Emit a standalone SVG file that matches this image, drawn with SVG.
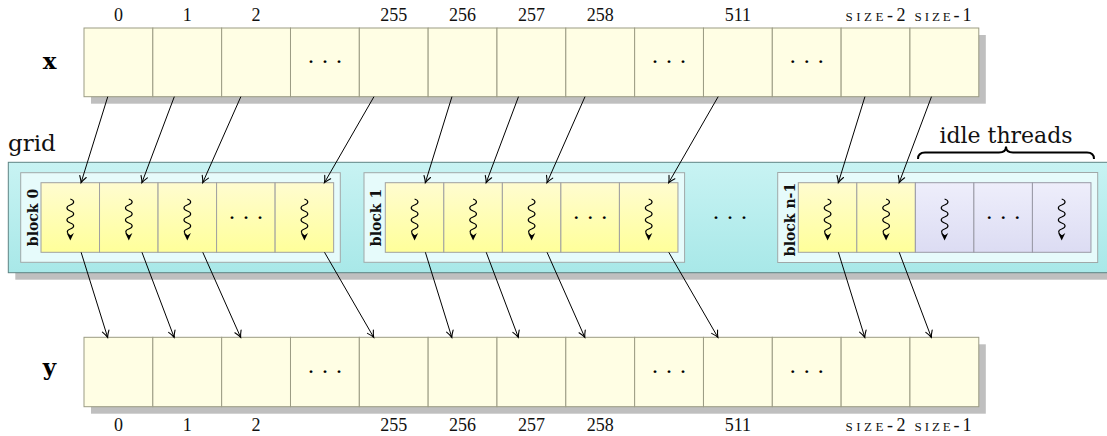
<svg xmlns="http://www.w3.org/2000/svg" width="1107" height="436" viewBox="0 0 1107 436">
<style>
.cell{fill:#fffee4;stroke:#9c9c84;stroke-width:1}
.shadow{fill:#bfbfbf}
.num{font-family:"Liberation Serif",serif;font-size:18px;fill:#111;text-anchor:middle}
.sc{font-size:13px}
.dots{font-family:"Liberation Serif",serif;font-size:24px;fill:#000;text-anchor:middle}
.big{font-family:"DejaVu Serif",serif;font-weight:bold;font-size:23px;fill:#000;text-anchor:middle}
.blk{fill:#e6fbfb;stroke:#a0a8a8;stroke-width:1}
.thr{fill:url(#yel);stroke:#a0a0a0;stroke-width:1}
.idle{fill:url(#lav);stroke:#9a9aa6;stroke-width:1}
.blabel{font-family:"DejaVu Serif",serif;font-weight:bold;font-size:14px;fill:#111;text-anchor:middle}
.conn line{stroke:#000;stroke-width:1;marker-end:url(#arr)}
.lbl{font-family:"DejaVu Serif",serif;fill:#111}
</style>
<defs>
<linearGradient id="gridg" x1="0" y1="0" x2="0" y2="1">
<stop offset="0" stop-color="#c8f3f3"/><stop offset="1" stop-color="#a8e8e8"/>
</linearGradient>
<linearGradient id="yel" x1="0" y1="0" x2="0" y2="1">
<stop offset="0" stop-color="#fffcd0"/><stop offset="1" stop-color="#ffff9a"/>
</linearGradient>
<linearGradient id="lav" x1="0" y1="0" x2="0" y2="1">
<stop offset="0" stop-color="#eeeefb"/><stop offset="1" stop-color="#dcdcf3"/>
</linearGradient>
<marker id="arr" markerWidth="10" markerHeight="10" viewBox="-8 -5 10 10" refX="0" refY="0" orient="auto" markerUnits="userSpaceOnUse" overflow="visible">
<path d="M-6.5,-3.4 Q-2.6,-0.9 0,0 Q-2.6,0.9 -6.5,3.4" fill="none" stroke="#000" stroke-width="1.1" stroke-linecap="round"/>
</marker>
<g id="sq">
<path d="M0,0 C4.5,1.5 4.5,4.5 0,6 S-4.5,10.5 0,12 S4.5,16.5 0,18 S-4.5,22.5 0,24 S4.5,28.5 0,30 S-3.5,34 0,37 L0,39" fill="none" stroke="#000" stroke-width="1.15"/>
<path d="M-3.6,34 L0,41.5 L3.6,34 L0,36.5 Z" fill="#000"/>
</g>
</defs>

<!-- x array -->
<g id="array-x">
<rect class="shadow" x="91" y="35" width="894.8" height="68.7"/>
<rect class="cell" x="84" y="28" width="68.83" height="68.7"/>
<rect class="cell" x="152.83" y="28" width="68.83" height="68.7"/>
<rect class="cell" x="221.66" y="28" width="68.83" height="68.7"/>
<rect class="cell" x="290.49" y="28" width="68.83" height="68.7"/>
<rect class="cell" x="359.32" y="28" width="68.83" height="68.7"/>
<rect class="cell" x="428.15" y="28" width="68.83" height="68.7"/>
<rect class="cell" x="496.98" y="28" width="68.83" height="68.7"/>
<rect class="cell" x="565.81" y="28" width="68.83" height="68.7"/>
<rect class="cell" x="634.64" y="28" width="68.83" height="68.7"/>
<rect class="cell" x="703.47" y="28" width="68.83" height="68.7"/>
<rect class="cell" x="772.3" y="28" width="68.83" height="68.7"/>
<rect class="cell" x="841.13" y="28" width="68.83" height="68.7"/>
<rect class="cell" x="909.96" y="28" width="68.83" height="68.7"/>
<text class="big" x="49.5" y="68.5">x</text>
<text class="dots" x="324.9" y="69">· · ·</text>
<text class="dots" x="669" y="69">· · ·</text>
<text class="dots" x="806.7" y="69">· · ·</text>
<text class="num" x="118.4" y="21">0</text>
<text class="num" x="187.3" y="21">1</text>
<text class="num" x="256.1" y="21">2</text>
<text class="num" x="393.7" y="21">255</text>
<text class="num" x="462.6" y="21">256</text>
<text class="num" x="531.4" y="21">257</text>
<text class="num" x="600.2" y="21">258</text>
<text class="num" x="737.9" y="21">511</text>
<text class="num" x="875.5" y="21" textLength="60" lengthAdjust="spacing"><tspan class="sc">SIZE</tspan>-2</text>
<text class="num" x="943" y="21" textLength="57" lengthAdjust="spacing"><tspan class="sc">SIZE</tspan>-1</text>
</g>

<!-- grid -->
<g id="grid">
<rect class="shadow" x="15.3" y="169.3" width="1100" height="110.4"/>
<rect x="8.3" y="162.3" width="1110" height="110.4" fill="url(#gridg)" stroke="#5e8484" stroke-width="1"/>
<text class="lbl" x="8" y="150.5" font-size="23">grid</text>
<text class="dots" x="730" y="225">· · ·</text>
</g>

<g id="block-0">
<rect class="blk" x="20.7" y="172.7" width="319.6" height="89.6"/>
<text class="blabel" transform="translate(37.8,217.5) rotate(-90)">block 0</text>
<rect class="thr" x="41" y="182.7" width="58.53" height="69.6"/>
<rect class="thr" x="99.53" y="182.7" width="58.53" height="69.6"/>
<rect class="thr" x="158.06" y="182.7" width="58.53" height="69.6"/>
<rect class="thr" x="216.59" y="182.7" width="58.53" height="69.6"/>
<rect class="thr" x="275.12" y="182.7" width="58.53" height="69.6"/>
<use href="#sq" x="70.3" y="199"/>
<use href="#sq" x="128.8" y="199"/>
<use href="#sq" x="187.3" y="199"/>
<text class="dots" x="245.9" y="225">· · ·</text>
<use href="#sq" x="304.4" y="199"/>
</g>

<g id="block-1">
<rect class="blk" x="364" y="172.7" width="320.6" height="89.6"/>
<text class="blabel" transform="translate(381,217.5) rotate(-90)">block 1</text>
<rect class="thr" x="385.3" y="182.7" width="58.53" height="69.6"/>
<rect class="thr" x="443.83" y="182.7" width="58.53" height="69.6"/>
<rect class="thr" x="502.36" y="182.7" width="58.53" height="69.6"/>
<rect class="thr" x="560.89" y="182.7" width="58.53" height="69.6"/>
<rect class="thr" x="619.42" y="182.7" width="58.53" height="69.6"/>
<use href="#sq" x="414.6" y="199"/>
<use href="#sq" x="473.1" y="199"/>
<use href="#sq" x="531.6" y="199"/>
<text class="dots" x="590.2" y="225">· · ·</text>
<use href="#sq" x="648.7" y="199"/>
</g>

<g id="block-n-1">
<rect class="blk" x="777.7" y="172.5" width="320" height="90"/>
<text class="blabel" transform="translate(794.5,219.5) rotate(-90)">block n-1</text>
<rect class="thr" x="798.3" y="182.7" width="58.53" height="69.6"/>
<rect class="thr" x="856.83" y="182.7" width="58.53" height="69.6"/>
<rect class="idle" x="915.36" y="182.7" width="58.53" height="69.6"/>
<rect class="idle" x="973.89" y="182.7" width="58.53" height="69.6"/>
<rect class="idle" x="1032.42" y="182.7" width="58.53" height="69.6"/>
<use href="#sq" x="827.6" y="199"/>
<use href="#sq" x="886.1" y="199"/>
<use href="#sq" x="944.6" y="199"/>
<text class="dots" x="1003.2" y="225">· · ·</text>
<use href="#sq" x="1061.7" y="199"/>
</g>

<g id="idle-threads">
<path d="M918,159 Q918,152.5 925,152.5 L999,152.5 Q1006,152.5 1006,146.5 Q1006,152.5 1013,152.5 L1087,152.5 Q1094,152.5 1094,159" fill="none" stroke="#000" stroke-width="2"/>
<text class="lbl" x="1006" y="143" font-size="22" text-anchor="middle">idle threads</text>
</g>

<!-- y array -->
<g id="array-y">
<rect class="shadow" x="91" y="344.3" width="894.8" height="69.4"/>
<rect class="cell" x="84" y="337.3" width="68.83" height="69.4"/>
<rect class="cell" x="152.83" y="337.3" width="68.83" height="69.4"/>
<rect class="cell" x="221.66" y="337.3" width="68.83" height="69.4"/>
<rect class="cell" x="290.49" y="337.3" width="68.83" height="69.4"/>
<rect class="cell" x="359.32" y="337.3" width="68.83" height="69.4"/>
<rect class="cell" x="428.15" y="337.3" width="68.83" height="69.4"/>
<rect class="cell" x="496.98" y="337.3" width="68.83" height="69.4"/>
<rect class="cell" x="565.81" y="337.3" width="68.83" height="69.4"/>
<rect class="cell" x="634.64" y="337.3" width="68.83" height="69.4"/>
<rect class="cell" x="703.47" y="337.3" width="68.83" height="69.4"/>
<rect class="cell" x="772.3" y="337.3" width="68.83" height="69.4"/>
<rect class="cell" x="841.13" y="337.3" width="68.83" height="69.4"/>
<rect class="cell" x="909.96" y="337.3" width="68.83" height="69.4"/>
<text class="big" x="49.5" y="374.5">y</text>
<text class="dots" x="324.9" y="379">· · ·</text>
<text class="dots" x="669" y="379">· · ·</text>
<text class="dots" x="806.7" y="379">· · ·</text>
<text class="num" x="118.4" y="431">0</text>
<text class="num" x="187.3" y="431">1</text>
<text class="num" x="256.1" y="431">2</text>
<text class="num" x="393.7" y="431">255</text>
<text class="num" x="462.6" y="431">256</text>
<text class="num" x="531.4" y="431">257</text>
<text class="num" x="600.2" y="431">258</text>
<text class="num" x="737.9" y="431">511</text>
<text class="num" x="875.5" y="431" textLength="60" lengthAdjust="spacing"><tspan class="sc">SIZE</tspan>-2</text>
<text class="num" x="943" y="431" textLength="57" lengthAdjust="spacing"><tspan class="sc">SIZE</tspan>-1</text>
</g>

<g id="connectors" class="conn">
<line x1="107.76" y1="96.7" x2="81.07" y2="182.7"/>
<line x1="174.31" y1="96.7" x2="141.91" y2="182.7"/>
<line x1="240.85" y1="96.7" x2="202.73" y2="182.7"/>
<line x1="373.96" y1="96.7" x2="324.44" y2="182.7"/>
<line x1="451.94" y1="96.7" x2="425.34" y2="182.7"/>
<line x1="518.49" y1="96.7" x2="486.18" y2="182.7"/>
<line x1="585.01" y1="96.7" x2="546.99" y2="182.7"/>
<line x1="718.15" y1="96.7" x2="668.71" y2="182.7"/>
<line x1="864.93" y1="96.7" x2="838.33" y2="182.7"/>
<line x1="931.48" y1="96.7" x2="899.17" y2="182.7"/>
<line x1="81.11" y1="252.3" x2="107.61" y2="337.3"/>
<line x1="141.96" y1="252.3" x2="174.12" y2="337.3"/>
<line x1="202.79" y1="252.3" x2="240.63" y2="337.3"/>
<line x1="324.52" y1="252.3" x2="373.67" y2="337.3"/>
<line x1="425.38" y1="252.3" x2="451.79" y2="337.3"/>
<line x1="486.23" y1="252.3" x2="518.31" y2="337.3"/>
<line x1="547.05" y1="252.3" x2="584.79" y2="337.3"/>
<line x1="668.79" y1="252.3" x2="717.87" y2="337.3"/>
<line x1="838.38" y1="252.3" x2="864.77" y2="337.3"/>
<line x1="899.22" y1="252.3" x2="931.29" y2="337.3"/>
</g>
</svg>
